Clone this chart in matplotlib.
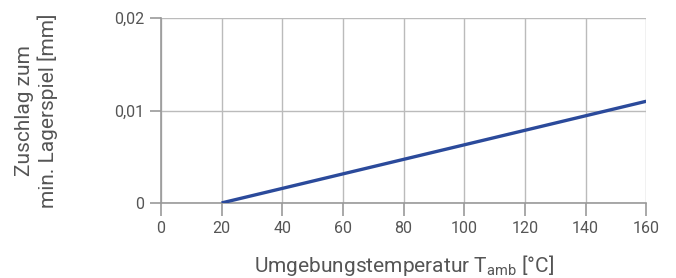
import matplotlib
matplotlib.use('Agg')
import matplotlib.pyplot as plt
from matplotlib.ticker import FuncFormatter

# Daten
temperatur = [20, 160]
zuschlag = [0.0, 0.011]
x_ticks = [0, 20, 40, 60, 80, 100, 120, 140, 160]
y_ticks = [0, 0.01, 0.02]

plt.rcParams['font.family'] = ['Roboto', 'DejaVu Sans']
plt.rcParams['mathtext.fontset'] = 'custom'
plt.rcParams['mathtext.rm'] = 'Roboto'

text_farbe = '#555555'
gitter_farbe = '#bbbbbb'
achsen_farbe = '#999999'

fig = plt.figure(figsize=(6.76, 2.78), dpi=100)
ax = fig.add_axes([0.238, 0.270, 0.718, 0.665])

ax.plot(temperatur, zuschlag, color='#2b4a9b', linewidth=2.4, solid_capstyle='butt', zorder=3)

ax.set_xlim(0, 160)
ax.set_ylim(0, 0.02)
ax.set_xticks(x_ticks)
ax.set_yticks(y_ticks)
ax.yaxis.set_major_formatter(FuncFormatter(lambda v, p: '0' if v == 0 else f"{v:.2f}".replace('.', ',')))

ax.grid(True, color=gitter_farbe, linewidth=1.0)
ax.set_axisbelow(True)
for s in ['top', 'right']:
    ax.spines[s].set_visible(False)
for s in ['left', 'bottom']:
    ax.spines[s].set_color(achsen_farbe)
    ax.spines[s].set_linewidth(1.2)

ax.tick_params(axis='both', colors=achsen_farbe, labelcolor=text_farbe, labelsize=11.5,
               width=1.2, direction='out')
ax.tick_params(axis='x', length=9, pad=4)
ax.tick_params(axis='y', length=8, pad=4)

ax.set_xlabel('Umgebungstemperatur T$_{\\mathrm{amb}}$ [°C]', fontsize=15, color=text_farbe, labelpad=12)
ax.set_ylabel('Zuschlag zum\nmin. Lagerspiel [mm]', fontsize=15, color=text_farbe, labelpad=40,
              linespacing=1.25)

plt.savefig('out.png', dpi=100)
plt.close()
